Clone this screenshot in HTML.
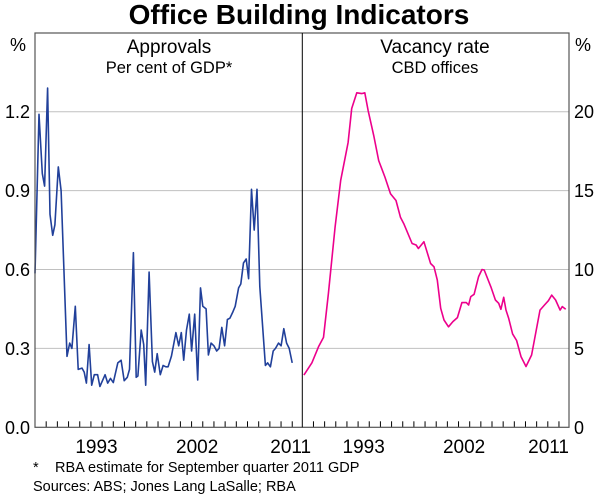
<!DOCTYPE html>
<html><head><meta charset="utf-8"><style>
body{margin:0;background:#fff;}
svg{display:block;font-family:"Liberation Sans",Arial,sans-serif;}
</style></head><body>
<svg id="c" width="600" height="499" viewBox="0 0 600 499">
<text x="299" y="24" text-anchor="middle" font-size="28" font-weight="bold" fill="#000">Office Building Indicators</text>
<text x="18" y="51" text-anchor="middle" font-size="18">%</text>
<text x="583" y="51" text-anchor="middle" font-size="18">%</text>
<text x="169" y="53" text-anchor="middle" font-size="19">Approvals</text>
<text x="169" y="73" text-anchor="middle" font-size="16.5">Per cent of GDP*</text>
<text x="435" y="53" text-anchor="middle" font-size="19">Vacancy rate</text>
<text x="435" y="73" text-anchor="middle" font-size="16.5">CBD offices</text>
<text x="33" y="472" font-size="14.5">*</text>
<text x="55" y="472" font-size="14.5">RBA estimate for September quarter 2011 GDP</text>
<text x="33" y="491" font-size="14.5">Sources: ABS; Jones Lang LaSalle; RBA</text>
<g id="grid"></g><g id="marks"></g><g id="axes"></g>
</svg>
<script>
const leftTicks=[0,0.3,0.6,0.9,1.2];
const leftTickLabels=["0.0","0.3","0.6","0.9","1.2"];
const rightTicks=[0,5,10,15,20];
const rightTickLabels=["0","5","10","15","20"];
const yearLabels=[1993,2002,2011];
const approvalYears=[1988.0,1988.36,1988.65,1988.86,1989.13,1989.34,1989.58,1989.78,1990.08,1990.33,1990.86,1991.1,1991.3,1991.6,1991.86,1992.2,1992.4,1992.6,1992.84,1993.07,1993.3,1993.6,1993.8,1994.27,1994.5,1994.75,1995.0,1995.4,1995.7,1995.98,1996.25,1996.45,1996.8,1997.05,1997.2,1997.5,1997.72,1997.9,1998.2,1998.5,1998.7,1998.93,1999.2,1999.45,1999.7,1999.9,2000.2,2000.6,2000.85,2001.08,2001.3,2001.55,2001.8,2002.0,2002.28,2002.55,2002.8,2003.0,2003.3,2003.5,2003.75,2004.0,2004.25,2004.46,2004.7,2004.95,2005.2,2005.43,2005.7,2005.9,2006.2,2006.4,2006.64,2006.88,2007.1,2007.36,2007.6,2007.85,2008.1,2008.6,2008.8,2009.05,2009.3,2009.5,2009.77,2010.0,2010.25,2010.5,2010.73,2011.0];
const approvalValues=[0.585,1.19,0.965,0.917,1.29,0.81,0.73,0.77,0.99,0.9,0.27,0.32,0.30,0.46,0.22,0.225,0.21,0.168,0.315,0.16,0.2,0.2,0.155,0.2,0.168,0.186,0.17,0.245,0.255,0.177,0.19,0.22,0.664,0.19,0.195,0.37,0.315,0.16,0.59,0.25,0.21,0.28,0.2,0.235,0.23,0.23,0.27,0.36,0.31,0.36,0.255,0.37,0.43,0.29,0.43,0.18,0.53,0.46,0.45,0.275,0.32,0.31,0.29,0.30,0.38,0.31,0.41,0.415,0.44,0.46,0.53,0.545,0.625,0.64,0.565,0.905,0.75,0.905,0.535,0.235,0.245,0.23,0.29,0.3,0.32,0.31,0.375,0.32,0.30,0.245];
const vacancyYears=[1988.14,1988.86,1989.45,1989.9,1990.34,1990.94,1991.44,1991.9,1992.1,1992.43,1992.88,1993.32,1993.6,1993.9,1994.4,1994.85,1995.4,1995.9,1996.4,1996.8,1997.1,1997.84,1998.2,1998.4,1998.9,1999.5,1999.8,2000.1,2000.4,2000.7,2001.1,2001.5,2001.9,2002.3,2002.7,2002.9,2003.1,2003.4,2003.8,2004.1,2004.3,2004.9,2005.3,2005.6,2005.8,2006.05,2006.25,2006.5,2006.85,2007.2,2007.6,2008.05,2008.55,2009.3,2009.7,2010.05,2010.35,2010.7,2011.1,2011.3,2011.6];
const vacancyValues=[3.31,4.09,5.1,5.7,8.48,12.7,15.65,17.3,18.05,20.2,21.2,21.15,21.2,20.08,18.5,16.9,15.86,14.8,14.37,13.3,12.9,11.65,11.55,11.33,11.76,10.38,10.17,9.33,7.54,6.8,6.37,6.7,6.95,7.9,7.9,7.75,8.28,8.43,9.55,10.0,9.97,8.9,8.07,7.86,7.48,8.24,7.43,6.9,5.92,5.5,4.48,3.85,4.58,7.43,7.75,8.02,8.38,8.07,7.43,7.65,7.48];

const NS="http://www.w3.org/2000/svg";
const TOP=33,BOT=427.3,L0=35,MID=302.3,R1=569;
const Y0=1988.0,Y1=2011.9;
function xL(y){return L0+(y-Y0)/(Y1-Y0)*(MID-L0);}
function xR(y){return MID+(y-Y0)/(Y1-Y0)*(R1-MID);}
function yL(v){return BOT-v/1.2*(BOT-111.7);}
function yR(v){return BOT-v/20*(BOT-111.7);}
function mk(tag,attrs,parent){const e=document.createElementNS(NS,tag);for(const k in attrs)e.setAttribute(k,attrs[k]);parent.appendChild(e);return e;}
const grid=document.getElementById('grid'),marks=document.getElementById('marks'),axes=document.getElementById('axes');
leftTicks.forEach((t,i)=>{
  const y=yL(t);
  if(t>0){const g=mk('line',{x1:L0,x2:R1,y1:y,y2:y,stroke:'#c0c0c0','stroke-width':1},grid);
  
  }
  const tx=mk('text',{x:30,y:y+6.5,'text-anchor':'end','font-size':18},axes);tx.textContent=leftTickLabels[i];
  
  
});
rightTicks.forEach((t,i)=>{
  const y=yR(t);
  const tx=mk('text',{x:574,y:y+6.5,'text-anchor':'start','font-size':18},axes);tx.textContent=rightTickLabels[i];
  
  
});
for(let yr=1989;yr<=2011;yr++){
  [xL(yr),xR(yr)].forEach(x=>{const t=mk('line',{x1:x,x2:x,y1:BOT,y2:BOT-6,stroke:'#000','stroke-width':1},axes);
  
  });
}
yearLabels.forEach(yr=>{
  let a=xL(yr+0.5),b=xR(yr+0.5);
  if(yr===2011){a=xL(2011.4)-6;b=R1;}
  const t1=mk('text',{x:a,y:453,'text-anchor':'middle','font-size':19},axes);t1.textContent=yr;
  
  
  const t2=mk('text',{x:b,y:453,'text-anchor':yr===2011?'end':'middle','font-size':19},axes);t2.textContent=yr;
  
  
});
const p1=mk('polyline',{points:approvalYears.map((y,i)=>xL(y).toFixed(1)+','+yL(approvalValues[i]).toFixed(1)).join(' '),fill:'none',stroke:'#21409a','stroke-width':1.6,'stroke-linejoin':'round'},marks);


const p2=mk('polyline',{points:vacancyYears.map((y,i)=>xR(y).toFixed(1)+','+yR(vacancyValues[i]).toFixed(1)).join(' '),fill:'none',stroke:'#ec008c','stroke-width':1.6,'stroke-linejoin':'round'},marks);


const fr=mk('rect',{x:L0,y:TOP,width:R1-L0,height:BOT-TOP,fill:'none',stroke:'#555','stroke-width':1.2},axes);


const dv=mk('line',{x1:MID,x2:MID,y1:TOP,y2:BOT,stroke:'#000','stroke-width':1},axes);


</script>
</body></html>
